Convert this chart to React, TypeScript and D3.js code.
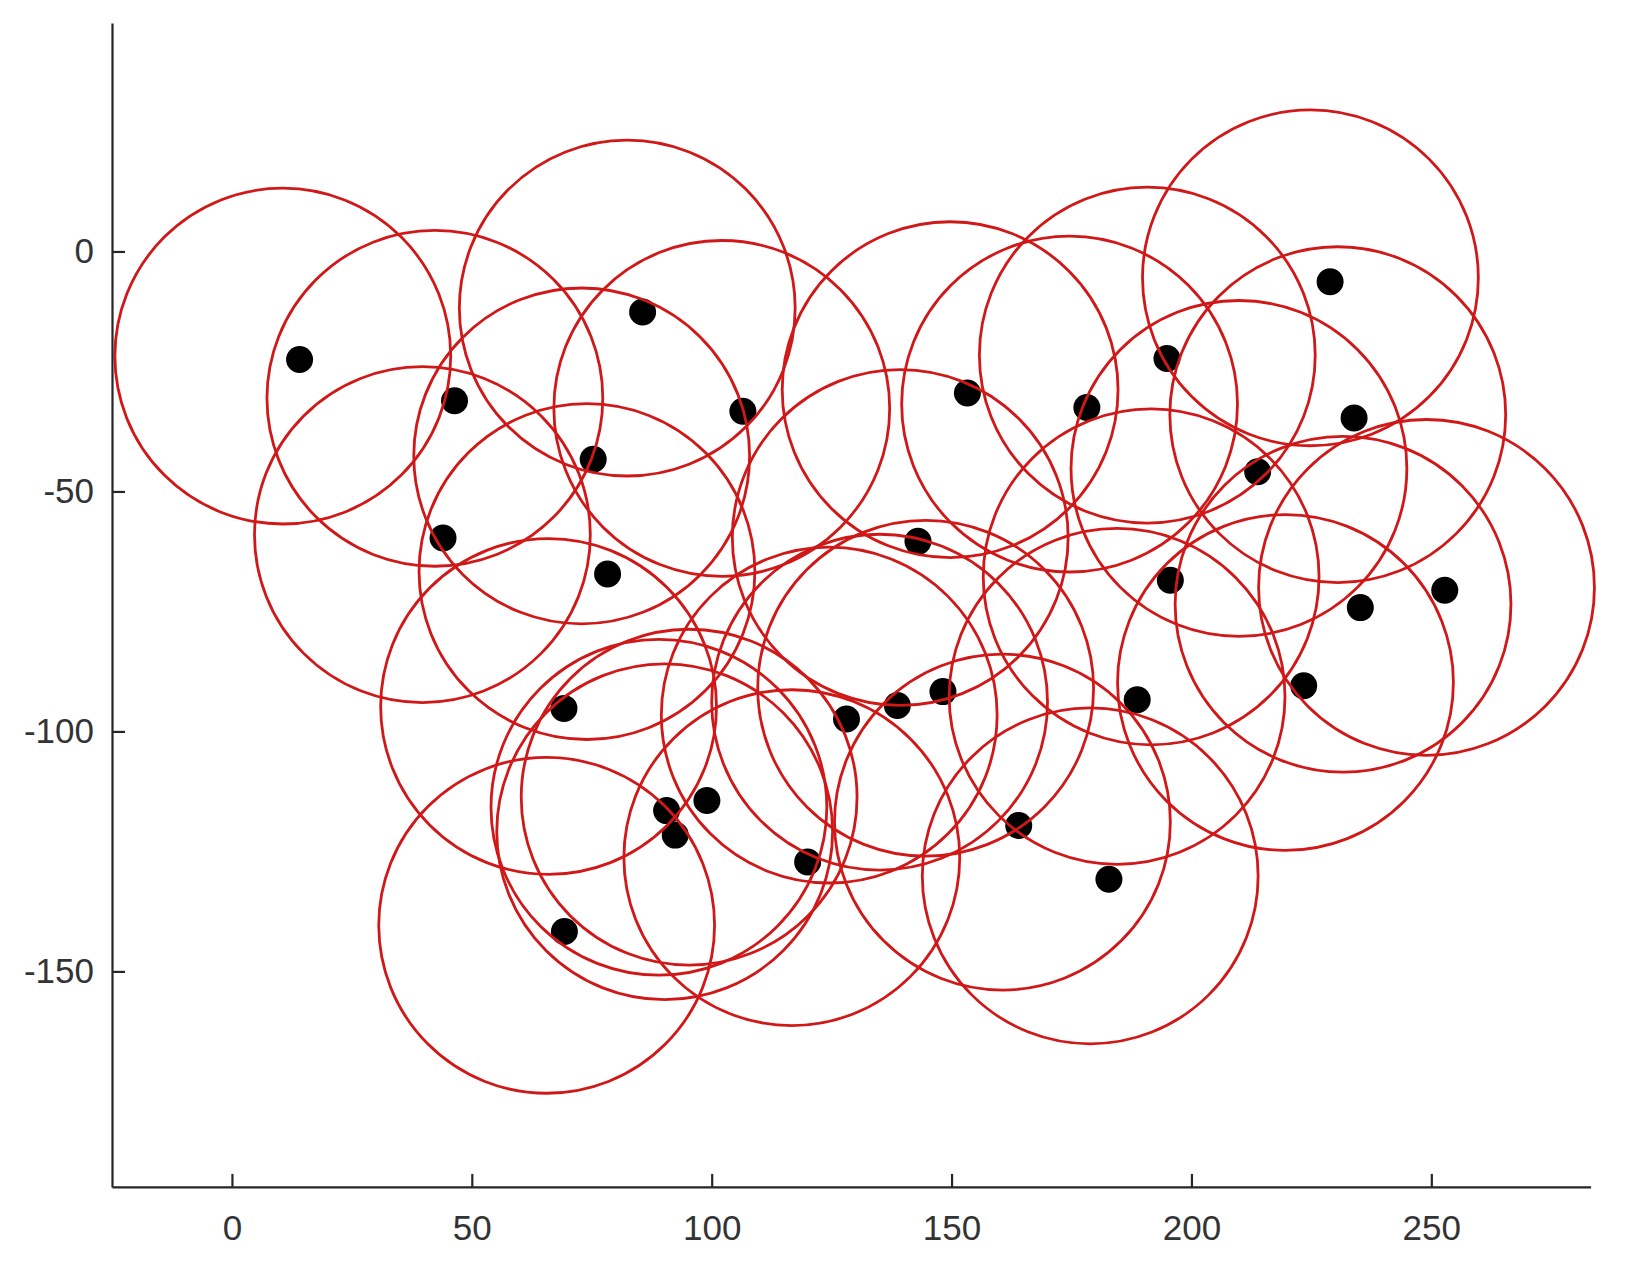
import * as d3 from "d3";
import { useEffect, useRef } from "react";

// black dots (x, y)
const dotX = [
  14.1, 46.4, 85.6, 106.5, 75.3, 44.0, 78.3, 69.2, 90.6, 92.4, 99.0, 69.3, 120.0, 128.1, 138.7,
  148.2, 143.0, 153.3, 164.0, 178.2, 194.9, 195.6, 188.7, 182.8, 213.8, 228.9, 233.9, 235.2, 223.4, 252.8,
];
const dotY = [
  -22.5, -31.1, -12.6, -33.3, -43.3, -59.7, -67.2, -95.2, -116.5, -121.6, -114.4, -141.7, -127.2, -97.4, -94.6,
  -91.7, -60.4, -29.5, -119.6, -32.5, -22.3, -68.5, -93.4, -130.8, -45.9, -6.3, -34.7, -74.2, -90.5, -70.6,
];

// red circle centres, one per dot, all the same radius
const circleX = [
  10.6, 42.3, 82.4, 102.1, 72.9, 39.7, 74.0, 66.0, 89.0, 90.2, 95.3, 65.6, 116.7, 124.5, 135.0,
  144.6, 139.3, 149.7, 160.6, 174.6, 190.8, 191.6, 184.5, 178.9, 209.9, 224.8, 230.5, 231.6, 219.6, 249.0,
];
const circleY = [
  -21.8, -30.6, -11.8, -32.7, -42.6, -59.0, -66.7, -94.8, -115.8, -120.9, -113.7, -140.4, -126.3, -96.6, -93.9,
  -91.0, -59.6, -28.8, -118.9, -31.8, -21.6, -67.8, -92.7, -130.1, -45.2, -5.5, -34.0, -73.5, -89.8, -70.0,
];
const circleR = 35;

const xTicks = [0, 50, 100, 150, 200, 250];
const yTicks = [0, -50, -100, -150];

const W = 1644;
const H = 1282;

const App = () => {
  const axRef = useRef(null);

  const x = d3.scaleLinear().domain([-25, 283.2]).range([112, 1590.6]);
  const y = d3.scaleLinear().domain([47.6, -194.9]).range([23, 1186.9]);
  const rPx = x(circleR) - x(0);

  useEffect(() => {
    const g = d3.select(axRef.current);
    g.selectAll("*").remove();

    // plain hyphen for negatives, like the original
    const fmt = (d) => String(d);

    const xAxis = g
      .append("g")
      .attr("transform", "translate(0," + y.range()[1] + ")")
      .call(
        d3
          .axisBottom(x)
          .tickValues(xTicks)
          .tickFormat(fmt)
          .tickSizeInner(-13)
          .tickSizeOuter(0)
          .tickPadding(28)
      );

    const yAxis = g
      .append("g")
      .attr("transform", "translate(" + x.range()[0] + ",0)")
      .call(
        d3
          .axisLeft(y)
          .tickValues(yTicks)
          .tickFormat(fmt)
          .tickSizeInner(-13)
          .tickSizeOuter(0)
          .tickPadding(18)
      );

    [xAxis, yAxis].forEach((a) => {
      a.attr("font-family", "'Liberation Sans', Arial, sans-serif").attr("font-size", 35);
      a.select(".domain").attr("stroke", "#262626").attr("stroke-width", 2.2);
      a.selectAll(".tick line").attr("stroke", "#262626").attr("stroke-width", 2.2);
      a.selectAll(".tick text").attr("fill", "#333333");
    });
  }, []);

  return (
    <svg
      width={W}
      height={H}
      style={{ position: "absolute", left: 0, top: 0, background: "#ffffff" }}
    >
      <rect width={W} height={H} fill="#ffffff" />
      <g id="dots">
        {dotX.map((d, i) => (
          <circle key={"d" + i} cx={x(d)} cy={y(dotY[i])} r={13.5} fill="#000000" />
        ))}
      </g>
      <g id="rings">
        {circleX.map((c, i) => (
          <circle
            key={"c" + i}
            cx={x(c)}
            cy={y(circleY[i])}
            r={rPx}
            fill="none"
            stroke="#d01818"
            strokeWidth={2.8}
          />
        ))}
      </g>
      <g ref={axRef} />
    </svg>
  );
};

export default App;
